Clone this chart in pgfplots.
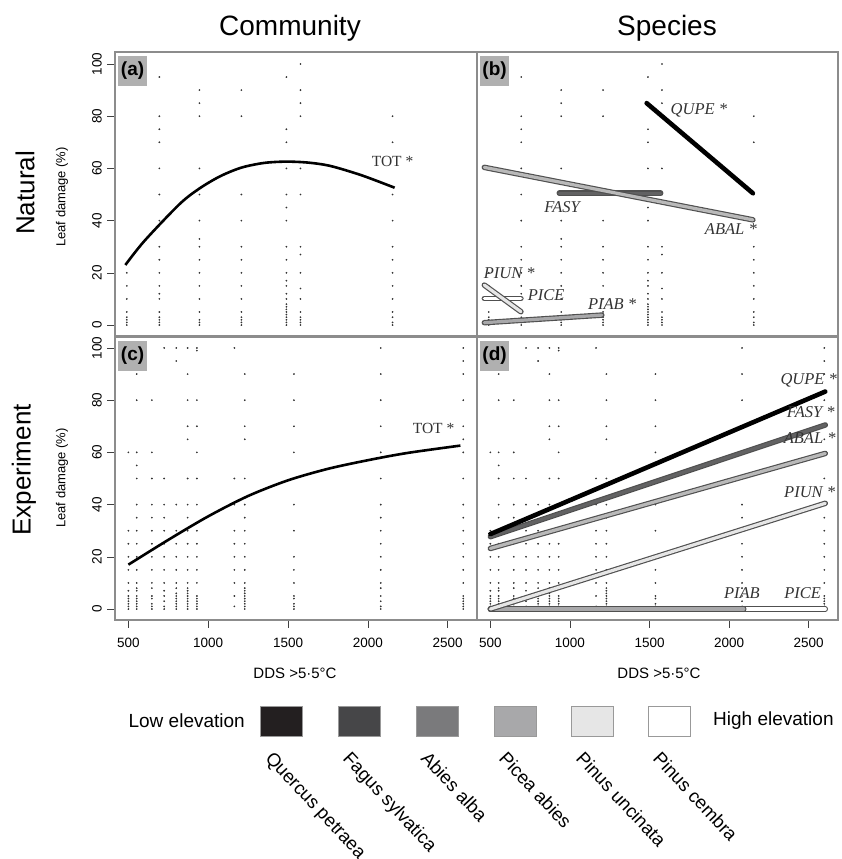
\documentclass[border=0pt]{standalone}
\usepackage{pgfplots}
\pgfplotsset{compat=1.18}
\usepackage{pgfplotstable}
\usepackage{fontspec}
\setmainfont{Liberation Sans}
\newfontfamily\tms{Liberation Serif}

\definecolor{frame}{HTML}{8C8C8C}
\definecolor{edge}{HTML}{505050}
\definecolor{qupe}{HTML}{231F20}
\definecolor{fasy}{HTML}{464648}
\definecolor{abal}{HTML}{7A7A7C}
\definecolor{piab}{HTML}{A8A8AA}
\definecolor{piun}{HTML}{E6E6E6}

% dots, one column of plots per site
\pgfplotstableread[row sep=\\]{x y\\
490 20\\ 490 15\\ 490 10\\ 490 5\\ 490 3\\ 490 2\\ 490 1\\ 490 0\\
694 95\\ 694 80\\ 694 75\\ 694 70\\ 694 60\\ 694 50\\ 694 40\\ 694 30\\ 694 25\\ 694 20\\ 694 15\\ 694 12\\ 694 10\\ 694 5\\ 694 3\\ 694 2\\ 694 1\\ 694 0\\
945 90\\ 945 85\\ 945 80\\ 945 60\\ 945 50\\ 945 40\\ 945 33\\ 945 30\\ 945 25\\ 945 20\\ 945 15\\ 945 10\\ 945 5\\ 945 2\\ 945 1\\ 945 0\\
1208 90\\ 1208 80\\ 1208 50\\ 1208 40\\ 1208 30\\ 1208 25\\ 1208 20\\ 1208 15\\ 1208 10\\ 1208 5\\ 1208 3\\ 1208 2\\ 1208 1\\ 1208 0\\
1490 95\\ 1490 75\\ 1490 70\\ 1490 60\\ 1490 50\\ 1490 45\\ 1490 40\\ 1490 30\\ 1490 25\\ 1490 20\\ 1490 17\\ 1490 15\\ 1490 12\\ 1490 10\\ 1490 8\\ 1490 7\\ 1490 6\\ 1490 5\\ 1490 4\\ 1490 3\\ 1490 2\\ 1490 1\\ 1490 0\\
1578 100\\ 1578 90\\ 1578 85\\ 1578 80\\ 1578 60\\ 1578 50\\ 1578 30\\ 1578 27\\ 1578 20\\ 1578 14\\ 1578 10\\ 1578 5\\ 1578 3\\ 1578 2\\ 1578 1\\ 1578 0\\
2155 80\\ 2155 70\\ 2155 50\\ 2155 40\\ 2155 30\\ 2155 25\\ 2155 20\\ 2155 15\\ 2155 10\\ 2155 5\\ 2155 3\\ 2155 1\\ 2155 0\\
}\natdots

\pgfplotstableread[row sep=\\]{x y\\
500 60\\ 500 30\\ 500 25\\ 500 20\\ 500 15\\ 500 10\\ 500 7\\ 500 5\\ 500 4\\ 500 3\\ 500 2\\ 500 1\\ 500 0\\
552 90\\ 552 80\\ 552 60\\ 552 55\\ 552 50\\ 552 40\\ 552 35\\ 552 30\\ 552 25\\ 552 20\\ 552 15\\ 552 10\\ 552 8\\ 552 7\\ 552 5\\ 552 4\\ 552 3\\ 552 2\\ 552 1\\ 552 0\\
647 80\\ 647 60\\ 647 50\\ 647 40\\ 647 35\\ 647 30\\ 647 25\\ 647 20\\ 647 15\\ 647 10\\ 647 8\\ 647 5\\ 647 4\\ 647 2\\ 647 1\\ 647 0\\
724 100\\ 724 50\\ 724 40\\ 724 35\\ 724 30\\ 724 25\\ 724 20\\ 724 15\\ 724 10\\ 724 7\\ 724 5\\ 724 3\\ 724 1\\ 724 0\\
800 100\\ 800 95\\ 800 40\\ 800 30\\ 800 25\\ 800 20\\ 800 15\\ 800 10\\ 800 8\\ 800 6\\ 800 5\\ 800 4\\ 800 3\\ 800 2\\ 800 1\\ 800 0\\
871 100\\ 871 90\\ 871 80\\ 871 70\\ 871 65\\ 871 50\\ 871 40\\ 871 35\\ 871 30\\ 871 25\\ 871 20\\ 871 15\\ 871 10\\ 871 8\\ 871 7\\ 871 6\\ 871 5\\ 871 4\\ 871 3\\ 871 2\\ 871 1\\ 871 0\\
929 100\\ 929 99\\ 929 80\\ 929 70\\ 929 60\\ 929 50\\ 929 40\\ 929 30\\ 929 25\\ 929 20\\ 929 15\\ 929 10\\ 929 5\\ 929 4\\ 929 3\\ 929 2\\ 929 1\\ 929 0\\
1164 100\\ 1164 50\\ 1164 40\\ 1164 30\\ 1164 25\\ 1164 20\\ 1164 15\\ 1164 10\\ 1164 5\\ 1164 1\\
1229 90\\ 1229 80\\ 1229 70\\ 1229 65\\ 1229 50\\ 1229 40\\ 1229 35\\ 1229 30\\ 1229 25\\ 1229 20\\ 1229 15\\ 1229 10\\ 1229 8\\ 1229 7\\ 1229 6\\ 1229 5\\ 1229 4\\ 1229 3\\ 1229 2\\ 1229 1\\ 1229 0\\
1537 90\\ 1537 80\\ 1537 70\\ 1537 60\\ 1537 40\\ 1537 30\\ 1537 20\\ 1537 15\\ 1537 10\\ 1537 5\\ 1537 4\\ 1537 2\\ 1537 1\\ 1537 0\\
2081 100\\ 2081 90\\ 2081 80\\ 2081 70\\ 2081 60\\ 2081 50\\ 2081 40\\ 2081 35\\ 2081 30\\ 2081 25\\ 2081 20\\ 2081 15\\ 2081 10\\ 2081 8\\ 2081 5\\ 2081 3\\ 2081 1\\ 2081 0\\
2598 100\\ 2598 95\\ 2598 90\\ 2598 80\\ 2598 70\\ 2598 65\\ 2598 60\\ 2598 50\\ 2598 40\\ 2598 35\\ 2598 30\\ 2598 25\\ 2598 20\\ 2598 15\\ 2598 10\\ 2598 5\\ 2598 4\\ 2598 3\\ 2598 2\\ 2598 1\\ 2598 0\\
}\expdots

\pgfplotsset{
  panel/.style={
    width=362pt, height=284pt, scale only axis,
    xmin=416, xmax=2684, ymin=-4.2, ymax=104.6,
    axis line style={draw=frame, line width=1.3pt},
    tick style={black!75, line width=0.6pt},
    tick align=outside, major tick length=8pt,
    xtick=\empty, ytick=\empty,
    clip mode=individual,
    /pgf/number format/assume math mode=true,
    /pgf/number format/1000 sep={},
    ticklabel style={font=\fontsize{13.5}{14}\selectfont},
    xticklabel style={yshift=-7pt},
    yticklabel style={rotate=90, anchor=south, inner sep=0pt, yshift=5pt},
  },
  dots/.style={only marks, mark=*, mark size=0.65pt, black!80, forget plot},
  rim/.style={edge, line width=5.5pt, line cap=round},
  core/.style={line width=3.2pt, line cap=round},
}
\tikzset{
  tag/.style={font=\tms\itshape\fontsize{16.5}{17}\selectfont, text=black!80},
  tot/.style={font=\tms\fontsize{15.5}{16}\selectfont, text=black!80},
  plab/.style={fill=gray!62, anchor=north west, font=\bfseries\fontsize{19}{19}\selectfont,
    minimum width=29pt, minimum height=30pt, inner sep=1pt},
}

\begin{document}
\begin{tikzpicture}[x=1pt,y=1pt]
\useasboundingbox (0,0) rectangle (841,859);
\clip (0,0) rectangle (841,859);

% (a) Natural, community
\begin{axis}[panel, at={(115pt,523pt)}, anchor=south west,
  ytick={0,20,...,100}, ytick pos=left]
\addplot[dots] table {\natdots};
\addplot[black, line width=2.6pt, smooth] coordinates {
  (481,23) (600,32.2) (820,46.3) (945,52.3) (1075,57) (1208,60.3)
  (1350,62.1) (1490,62.6) (1630,62.2) (1768,60.9) (1964,57.3) (2168,52.6)};
\node[tot] at (axis cs:2155,62.5) {TOT *};
\node[plab] at (rel axis cs:0.008,0.988) {(a)};
\end{axis}

% (b) Natural, species
\begin{axis}[panel, at={(477pt,523pt)}, anchor=south west, width=361pt]
\addplot[dots] table {\natdots};
\addplot[rim] coordinates {(933,50.5) (1570,50.5)};
\addplot[core, fasy!85] coordinates {(933,50.5) (1570,50.5)};
\addplot[rim] coordinates {(462,60.4) (2149,40.3)};
\addplot[core, gray!55] coordinates {(462,60.4) (2149,40.3)};
\addplot[black, line width=4.6pt, line cap=round] coordinates {(1482,85) (2149,50.5)};
\addplot[rim] coordinates {(462,10.2) (692,10.2)};
\addplot[core, white] coordinates {(462,10.2) (692,10.2)};
\addplot[rim] coordinates {(462,15.3) (692,5.1)};
\addplot[core, piun] coordinates {(462,15.3) (692,5.1)};
\addplot[rim] coordinates {(462,0.9) (1200,3.8)};
\addplot[core, piab] coordinates {(462,0.9) (1200,3.8)};
\node[tag] at (axis cs:1810,82.4) {QUPE *};
\node[tag] at (axis cs:951,45.2) {FASY};
\node[tag] at (axis cs:2011,36.8) {ABAL *};
\node[tag] at (axis cs:619,19.9) {PIUN *};
\node[tag] at (axis cs:851,11.5) {PICE};
\node[tag] at (axis cs:1265,8.0) {PIAB *};
\node[plab] at (rel axis cs:0.008,0.988) {(b)};
\end{axis}

% (c) Experiment, community
\begin{axis}[panel, at={(115pt,239pt)}, anchor=south west, height=283pt, ymax=104.2,
  ytick={0,20,...,100}, ytick pos=left, xtick={500,1000,...,2500}, xtick pos=bottom]
\addplot[dots] table {\expdots};
\addplot[black, line width=2.6pt, smooth] coordinates {
  (500,17) (750,26.5) (1000,35.5) (1250,43.3) (1500,49.3) (1750,53.7)
  (2000,57) (2250,59.8) (2580,62.6)};
\node[tot] at (axis cs:2412,69.3) {TOT *};
\node[plab] at (rel axis cs:0.008,0.988) {(c)};
\end{axis}

% (d) Experiment, species
\begin{axis}[panel, at={(477pt,239pt)}, anchor=south west, width=361pt, height=283pt,
  ymax=104.2, xtick={500,1000,...,2500}, xtick pos=bottom]
\addplot[dots] table {\expdots};
\addplot[rim] coordinates {(500,0) (2604,0)};
\addplot[core, white] coordinates {(500,0) (2604,0)};
\addplot[rim] coordinates {(500,0) (2092,0)};
\addplot[core, piab] coordinates {(500,0) (2092,0)};
\addplot[rim] coordinates {(500,0) (2604,40.5)};
\addplot[core, piun] coordinates {(500,0) (2604,40.5)};
\addplot[rim] coordinates {(500,23.2) (2604,59.6)};
\addplot[core, gray!55] coordinates {(500,23.2) (2604,59.6)};
\addplot[rim] coordinates {(500,27.7) (2604,70.5)};
\addplot[core, fasy!85] coordinates {(500,27.7) (2604,70.5)};
\addplot[black, line width=4.6pt, line cap=round] coordinates {(500,28.7) (2604,83.3)};
\node[tag] at (axis cs:2500,87.7) {QUPE *};
\node[tag] at (axis cs:2513,75.5) {FASY *};
\node[tag] at (axis cs:2506,65.5) {ABAL *};
\node[tag] at (axis cs:2506,44.8) {PIUN *};
\node[tag] at (axis cs:2080,6.1) {PIAB};
\node[tag] at (axis cs:2462,6.1) {PICE};
\node[plab] at (rel axis cs:0.008,0.988) {(d)};
\end{axis}

% titles and row labels
\node[font=\fontsize{28}{30}\selectfont] at (290,831) {Community};
\node[font=\fontsize{28}{30}\selectfont] at (667,831) {Species};
\node[font=\fontsize{26}{28}\selectfont, rotate=90] at (25,666) {Natural};
\node[font=\fontsize{26}{28}\selectfont, rotate=90] at (24,389) {Experiment};
\node[font=\fontsize{13}{14}\selectfont, rotate=90] at (62,662) {Leaf damage (\%)};
\node[font=\fontsize{13}{14}\selectfont, rotate=90] at (62,381) {Leaf damage (\%)};
\node[font=\fontsize{15}{16}\selectfont] at (295,186) {DDS >5·5°C};
\node[font=\fontsize{15}{16}\selectfont] at (659,186) {DDS >5·5°C};

% elevation key
\node[font=\fontsize{19}{20}\selectfont, anchor=east, inner sep=0pt] at (245,138) {Low elevation};
\node[font=\fontsize{19}{20}\selectfont, anchor=west, inner sep=0pt] at (713,138) {High elevation};
\foreach \xl/\col/\nm in {260/qupe/Quercus petraea, 338/fasy/Fagus sylvatica,
    416/abal/Abies alba, 494/piab/Picea abies, 571/piun/Pinus uncinata, 648/white/Pinus cembra} {
  \draw[fill=\col, draw=gray!80, line width=0.8pt] (\xl,123) rectangle ++(42,30);
  \node[font=\fontsize{18.5}{19}\selectfont, rotate=-47, anchor=north west, inner sep=0pt]
    at (\xl+14,109) {\nm};
}
\end{tikzpicture}
\end{document}
